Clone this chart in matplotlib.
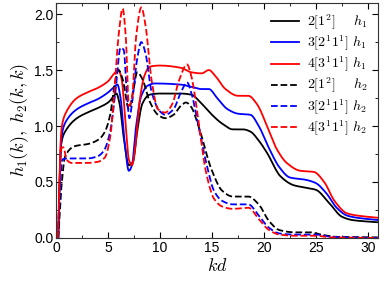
import numpy as np
import matplotlib
matplotlib.use("Agg")
import matplotlib.pyplot as plt
from matplotlib.ticker import MultipleLocator, FormatStrFormatter

plt.rcParams.update({
    "font.family": ["Liberation Sans", "DejaVu Sans"],
    "mathtext.fontset": "cm",
    "font.size": 9,
})

# h1 curves (solid)
x_h1_black = [0.2, 0.35, 0.5, 1.0, 2, 3, 4, 5, 5.5, 5.8, 6.1, 6.5, 7.0, 7.4, 7.8, 8.3, 9, 10, 12, 13, 14, 15, 16, 17,
              18, 18.7, 19.5, 20.3, 21.6, 22.9, 24, 25, 26.3, 27.5, 28.5, 29.5, 31]
y_h1_black = [0.0, 0.6, 0.85, 0.97, 1.07, 1.12, 1.16, 1.21, 1.26, 1.29, 1.2, 0.9, 0.65, 0.68, 0.95, 1.2, 1.28, 1.29, 1.29, 1.28, 1.2, 1.1, 1.02, 0.97,
              0.97, 0.95, 0.87, 0.76, 0.55, 0.47, 0.45, 0.43, 0.31, 0.19, 0.16, 0.15, 0.14]

x_h1_blue = [0.2, 0.4, 0.6, 1.0, 2, 3, 4, 5, 5.6, 5.9, 6.2, 6.6, 7.0, 7.3, 7.7, 8.2, 8.8, 9.5, 12, 13, 14, 14.7, 15.5, 16.5,
             17.5, 18.7, 19.5, 20.5, 21.5, 22.5, 24, 25, 26, 27, 28, 29, 31]
y_h1_blue = [0.0, 0.7, 0.95, 1.05, 1.15, 1.2, 1.24, 1.3, 1.35, 1.37, 1.25, 0.85, 0.6, 0.65, 1.0, 1.27, 1.36, 1.38, 1.37, 1.35, 1.33, 1.33, 1.25, 1.15,
             1.11, 1.1, 1.0, 0.8, 0.63, 0.54, 0.52, 0.49, 0.4, 0.27, 0.2, 0.18, 0.16]

x_h1_red = [0.2, 0.4, 0.55, 1, 2, 3, 4, 5, 5.6, 6.0, 6.3, 6.7, 7.0, 7.3, 7.6, 8.0, 8.5, 9.0, 10, 12, 13, 14, 14.7, 15.3, 16.3,
            17.5, 18.5, 19.3, 20.3, 21.2, 22.2, 23.5, 24.8, 25.8, 26.8, 28, 29, 31]
y_h1_red = [0.0, 0.8, 1.0, 1.13, 1.25, 1.3, 1.34, 1.4, 1.47, 1.5, 1.42, 1.0, 0.7, 0.65, 0.8, 1.2, 1.45, 1.53, 1.54, 1.52, 1.48, 1.47, 1.5, 1.45, 1.33,
            1.27, 1.27, 1.2, 1.0, 0.8, 0.67, 0.6, 0.59, 0.5, 0.33, 0.22, 0.2, 0.18]

# h2 curves (dashed)
x_h2_black = [0.2, 0.5, 0.87, 1.8, 3.1, 4.1, 4.7, 5.2, 5.6, 6.0, 6.4, 7.0, 7.4, 7.8, 8.3, 9.0, 9.8, 10.5, 11.3, 12.0, 12.5,
              13.0, 13.7, 15, 16, 17, 18.5, 19.5, 20.5, 21.5, 23, 24.5, 25.5, 27, 31]
y_h2_black = [0.0, 0.45, 0.73, 0.82, 0.84, 0.88, 0.95, 1.1, 1.35, 1.5, 1.42, 1.15, 1.3, 1.48, 1.42, 1.22, 1.1, 1.07, 1.1, 1.18, 1.21,
              1.17, 1.0, 0.6, 0.42, 0.37, 0.37, 0.3, 0.15, 0.07, 0.05, 0.05, 0.03, 0.01, 0.005]

x_h2_blue = [0.15, 0.6, 1, 2, 3, 4, 4.6, 5.2, 5.7, 6.2, 6.5, 6.8, 7.05, 7.3, 7.8, 8.2, 8.6, 9.2, 10, 10.5, 11.3, 12, 12.6,
             13.0, 13.7, 14.5, 15.2, 16, 17, 18.5, 19.5, 20.5, 21.5, 23, 25, 26.5, 31]
y_h2_blue = [0.0, 0.7, 0.71, 0.71, 0.71, 0.73, 0.78, 0.95, 1.3, 1.7, 1.68, 1.3, 1.07, 1.2, 1.6, 1.75, 1.65, 1.3, 1.13, 1.1, 1.15, 1.3, 1.39,
             1.3, 1.0, 0.65, 0.42, 0.33, 0.3, 0.3, 0.2, 0.09, 0.04, 0.03, 0.03, 0.01, 0.0]

x_h2_red = [0.15, 0.5, 0.7, 1.0, 1.5, 3, 4, 4.7, 5.2, 5.6, 6.0, 6.4, 6.7, 7.0, 7.3, 7.7, 8.2, 8.6, 9.2, 9.8, 10.5, 11.2, 11.8, 12.6,
            13.0, 13.7, 14.4, 15.2, 16, 17, 18.5, 19.5, 20.5, 21.5, 23, 25, 26.5, 31]
y_h2_red = [0.0, 0.8, 0.81, 0.7, 0.67, 0.67, 0.68, 0.72, 0.9, 1.3, 1.8, 2.05, 1.8, 1.18, 1.25, 1.8, 2.06, 1.9, 1.4, 1.15, 1.12, 1.2, 1.4, 1.55,
            1.45, 1.05, 0.6, 0.35, 0.28, 0.26, 0.27, 0.17, 0.07, 0.03, 0.02, 0.02, 0.005, 0.0]

labels = [r"$2[1^2]\quad\;\; h_1$", r"$3[2^1 1^1]\ h_1$", r"$4[3^1 1^1]\ h_1$",
          r"$2[1^2]\quad\;\; h_2$", r"$3[2^1 1^1]\ h_2$", r"$4[3^1 1^1]\ h_2$"]


def smooth(x, y, n=12):
    # monotone cubic (PCHIP) through the read points, only for drawing
    x = np.asarray(x, float)
    y = np.asarray(y, float)
    h = np.diff(x)
    d = np.diff(y) / h
    m = np.zeros_like(y)
    for i in range(1, len(x) - 1):
        if d[i - 1] * d[i] > 0:
            w1 = 2 * h[i] + h[i - 1]
            w2 = h[i] + 2 * h[i - 1]
            m[i] = (w1 + w2) / (w1 / d[i - 1] + w2 / d[i])
    m[0], m[-1] = d[0], d[-1]
    xs, ys = [], []
    for i in range(len(h)):
        t = np.linspace(0, 1, n, endpoint=False)
        h00 = 2 * t**3 - 3 * t**2 + 1
        h10 = t**3 - 2 * t**2 + t
        h01 = -2 * t**3 + 3 * t**2
        h11 = t**3 - t**2
        xs.append(x[i] + t * h[i])
        ys.append(h00 * y[i] + h10 * h[i] * m[i] + h01 * y[i + 1] + h11 * h[i] * m[i + 1])
    xs.append([x[-1]])
    ys.append([y[-1]])
    return np.concatenate(xs), np.concatenate(ys)


fig = plt.figure(figsize=(3.82, 2.86), dpi=100)
ax = fig.add_axes([0.147, 0.168, 0.843, 0.822])

lw = 1.3
series = [
    (x_h1_black, y_h1_black, "black", "-"),
    (x_h1_blue, y_h1_blue, "blue", "-"),
    (x_h1_red, y_h1_red, "red", "-"),
    (x_h2_black, y_h2_black, "black", "--"),
    (x_h2_blue, y_h2_blue, "blue", "--"),
    (x_h2_red, y_h2_red, "red", "--"),
]
for (x, y, c, ls), lab in zip(series, labels):
    xs, ys = smooth(x, y)
    ax.plot(xs, ys, color=c, lw=lw, ls=ls, label=lab)

ax.set_xlim(0, 31)
ax.set_ylim(0, 2.1)
ax.xaxis.set_major_locator(MultipleLocator(5))
ax.xaxis.set_minor_locator(MultipleLocator(2.5))
ax.yaxis.set_major_locator(MultipleLocator(0.5))
ax.yaxis.set_minor_locator(MultipleLocator(0.25))
ax.yaxis.set_major_formatter(FormatStrFormatter("%.1f"))
ax.tick_params(which="both", direction="in", top=True, right=True, labelsize=10, pad=2)
ax.tick_params(which="major", length=4)
ax.tick_params(which="minor", length=2.5)
for s in ax.spines.values():
    s.set_color("#333333")

ax.set_xlabel(r"$kd$", fontsize=13, labelpad=2)
ax.set_ylabel(r"$h_1(k),\ h_2(k,k)$", fontsize=13, labelpad=2)

ax.legend(loc="upper right", frameon=False, fontsize=10, handlelength=2.0,
          handletextpad=0.6, labelspacing=0.15, borderaxespad=0.3)

fig.savefig("out.png", dpi=100)
